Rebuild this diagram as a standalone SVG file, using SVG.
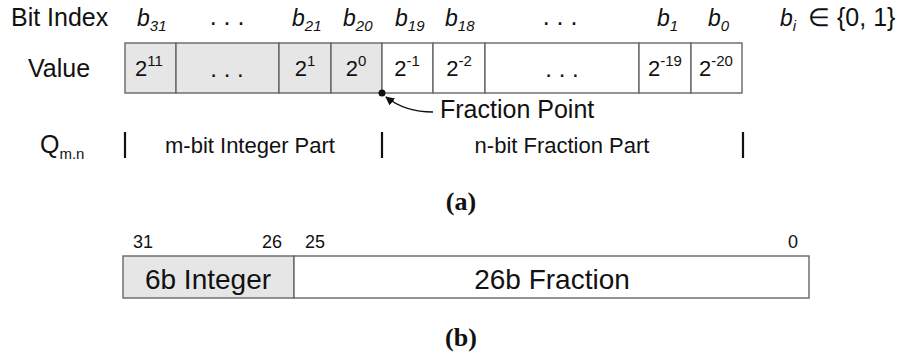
<svg xmlns="http://www.w3.org/2000/svg" width="909" height="363" viewBox="0 0 909 363">
<style>
text{font-family:"Liberation Sans",Arial,sans-serif;fill:#111}
.lbl{font-size:25px}
.bi{font-size:23px;font-style:italic}
.sub{font-size:15px}
.cv{font-size:22px;text-anchor:middle}
.dots{font-size:24px;text-anchor:middle}
.sup{font-size:15px}
.part{font-size:22px;text-anchor:middle}
.cap{font-family:"Liberation Serif","Times New Roman",serif;font-weight:bold;font-size:26px;text-anchor:middle}
.cell{stroke:#666;stroke-width:1.4}
.int{fill:#e6e6e6}
.frac{fill:#fff}
.bar{stroke:#111;stroke-width:2.2}
.bn{font-size:18px}
.big{font-size:28px;text-anchor:middle}
</style>
<defs>
<marker id="ah" viewBox="0 0 10 10" refX="9" refY="5" markerWidth="9" markerHeight="9" orient="auto" markerUnits="userSpaceOnUse">
<path d="M0,0 L10,5 L0,10 z" fill="#111"/>
</marker>
</defs>

<g id="labels">
<text class="lbl" x="11" y="26">Bit Index</text>
<text class="lbl" x="28" y="77">Value</text>
<text class="lbl" x="40" y="153">Q<tspan class="sub" dy="6">m.n</tspan></text>
</g>

<g id="bit-index">
<text class="bi" x="137" y="26">b<tspan class="sub" dy="5">31</tspan></text>
<text class="lbl" x="227" y="25" text-anchor="middle">. . .</text>
<text class="bi" x="292" y="26">b<tspan class="sub" dy="5">21</tspan></text>
<text class="bi" x="343" y="26">b<tspan class="sub" dy="5">20</tspan></text>
<text class="bi" x="395" y="26">b<tspan class="sub" dy="5">19</tspan></text>
<text class="bi" x="445" y="26">b<tspan class="sub" dy="5">18</tspan></text>
<text class="lbl" x="560" y="25" text-anchor="middle">. . .</text>
<text class="bi" x="657" y="26">b<tspan class="sub" dy="5">1</tspan></text>
<text class="bi" x="708" y="26">b<tspan class="sub" dy="5">0</tspan></text>
<text class="bi" x="780" y="26">b<tspan class="sub" dy="5">i</tspan></text>
<text class="lbl" x="808" y="26">∈</text>
<text class="lbl" x="837" y="26" font-size="26">{0, 1}</text>
</g>

<g id="value-register">
<rect class="cell int" x="125" y="43" width="51" height="50"/>
<rect class="cell int" x="176" y="43" width="103" height="50"/>
<rect class="cell int" x="279" y="43" width="52" height="50"/>
<rect class="cell int" x="331" y="43" width="51" height="50"/>
<rect class="cell frac" x="382" y="43" width="51" height="50"/>
<rect class="cell frac" x="433" y="43" width="52" height="50"/>
<rect class="cell frac" x="485" y="43" width="154" height="50"/>
<rect class="cell frac" x="639" y="43" width="52" height="50"/>
<rect class="cell frac" x="691" y="43" width="51" height="50"/>
<text class="cv" x="149" y="76">2<tspan class="sup" dy="-10">11</tspan></text>
<text class="dots" x="227" y="77">. . .</text>
<text class="cv" x="305" y="76">2<tspan class="sup" dy="-10">1</tspan></text>
<text class="cv" x="356" y="76">2<tspan class="sup" dy="-10">0</tspan></text>
<text class="cv" x="407" y="76">2<tspan class="sup" dy="-10">-1</tspan></text>
<text class="cv" x="459" y="76">2<tspan class="sup" dy="-10">-2</tspan></text>
<text class="dots" x="562" y="77">. . .</text>
<text class="cv" x="665" y="76">2<tspan class="sup" dy="-10">-19</tspan></text>
<text class="cv" x="716" y="76">2<tspan class="sup" dy="-10">-20</tspan></text>
</g>

<g id="fraction-point">
<circle cx="382" cy="93" r="3.5" fill="#111"/>
<text class="lbl" x="440" y="118" font-size="22.5">Fraction Point</text>
</g>

<g id="connectors">
<path d="M433,112 Q405,112 386,97" fill="none" stroke="#111" stroke-width="1.5" marker-end="url(#ah)"/>
</g>

<g id="qmn-row">
<line class="bar" x1="125" y1="132" x2="125" y2="158"/>
<line class="bar" x1="382" y1="132" x2="382" y2="158"/>
<line class="bar" x1="743" y1="132" x2="743" y2="158"/>
<text class="part" x="250" y="153">m-bit Integer Part</text>
<text class="part" x="562" y="153">n-bit Fraction Part</text>
</g>

<text class="cap" x="461" y="210">(a)</text>

<g id="fixed-format">
<text class="bn" x="133" y="248">31</text>
<text class="bn" x="262" y="248">26</text>
<text class="bn" x="305" y="248">25</text>
<text class="bn" x="788" y="248">0</text>
<rect class="cell int" x="123" y="256" width="171" height="42"/>
<rect class="cell frac" x="294" y="256" width="515" height="42"/>
<text class="big" x="208" y="289">6b Integer</text>
<text class="big" x="552" y="289">26b Fraction</text>
</g>

<text class="cap" x="461" y="346">(b)</text>
</svg>
